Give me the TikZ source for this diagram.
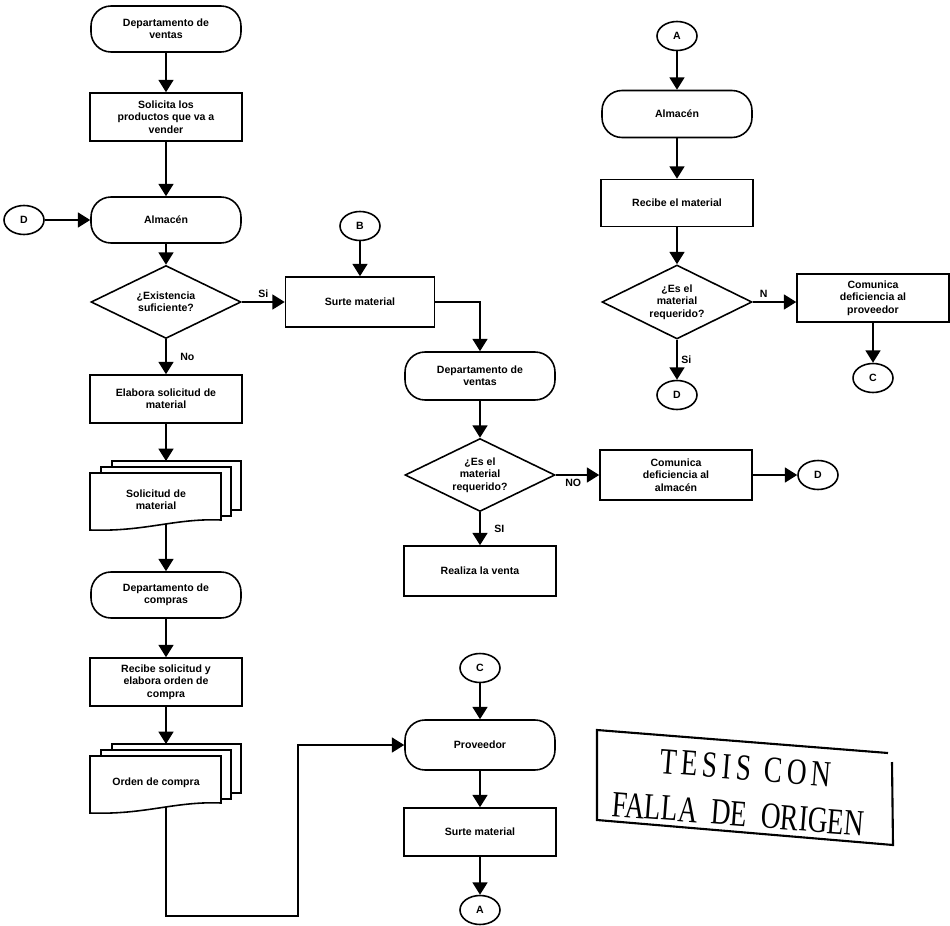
\documentclass[tikz,border=0pt]{standalone}
\usepackage{fontspec}
\setmainfont{Liberation Sans}
\newfontfamily\stampfont{Liberation Serif}
\usetikzlibrary{shapes.geometric,arrows.meta}

\tikzset{
    base/.style={draw, line width=0.9pt, fill=white, align=center, font=\fontsize{6}{7}\selectfont\bfseries, inner sep=1pt},
    term/.style={base, rectangle, rounded corners=0.4cm, minimum width=3cm, minimum height=0.92cm},
    proc/.style={base, rectangle, minimum width=3.04cm, minimum height=0.96cm},
    dec/.style={base, diamond, aspect=2, inner sep=0pt, minimum width=3cm, minimum height=1.46cm},
    conn/.style={base, ellipse, inner sep=0pt, minimum width=0.8cm, minimum height=0.58cm},
    arr/.style={line width=0.9pt, -{Triangle[length=7pt,width=8.5pt]}},
    lbl/.style={font=\fontsize{6}{7}\selectfont\bfseries, align=center, inner sep=2pt},
    stampline/.style={font=\stampfont\fontsize{21}{21}\selectfont, rotate=-4.5, xscale=0.74, inner sep=0pt},
}

% stack of documents: name, left x, top y, text
\newcommand{\docstack}[4]{%
    \draw[line width=0.9pt, fill=white] (#2+22,#3) rectangle (#2+151,#3+49);
    \draw[line width=0.9pt, fill=white] (#2+11,#3+6) rectangle (#2+141,#3+55);
    \draw[line width=0.9pt, fill=white] (#2,#3+12) -- (#2+131,#3+12) -- (#2+131,#3+59)
        .. controls (#2+85,#3+57) and (#2+55,#3+71) .. (#2,#3+69) -- cycle;
    \node[lbl] (#1) at (#2+66,#3+39) {#4};
    \coordinate (#1-in) at (#2+76,#3);
    \coordinate (#1-out) at (#2+76,#3+63);
}

\begin{document}
\begin{tikzpicture}[x=0.02cm, y=-0.02cm]
    \useasboundingbox[fill=white] (0,0) rectangle (950,926);

    % columna izquierda
    \node[term] (vent1) at (166,29) {Departamento de\\ventas};
    \node[proc] (solic) at (166,117) {Solicita los\\productos que va a\\vender};
    \node[term] (alm1) at (166,220) {Almacén};
    \node[conn] (conD1) at (24,220) {D};
    \node[dec] (exist) at (166,302) {¿Existencia\\suficiente?};
    \node[proc] (elab) at (166,399) {Elabora solicitud de\\material};
    \docstack{sol}{90}{461}{Solicitud de\\material}
    \node[term] (comp) at (166,595) {Departamento de\\compras};
    \node[proc] (recib) at (166,682) {Recibe solicitud y\\elabora orden de\\compra};
    \docstack{ord}{90}{744}{Orden de compra}
    \coordinate (bend) at (298,916);

    % columna central
    \node[conn] (conB) at (360,226) {B};
    \node[proc, minimum width=2.98cm, minimum height=1cm] (surte1) at (360,302) {Surte material};
    \node[term, minimum height=0.96cm] (vent2) at (480,376) {Departamento de\\ventas};
    \node[dec] (req1) at (480,475) {¿Es el\\material\\requerido?};
    \node[proc, minimum height=1cm] (venta) at (480,571) {Realiza la venta};
    \node[proc, minimum height=1cm] (defalm) at (676,475) {Comunica\\deficiencia al\\almacén};
    \node[conn] (conD2) at (818,475) {D};
    \node[conn] (conC1) at (480,668) {C};
    \node[term, minimum height=1cm] (prov) at (480,745) {Proveedor};
    \node[proc] (surte2) at (480,832) {Surte material};
    \node[conn] (conA1) at (480,910) {A};

    % columna derecha
    \node[conn] (conA2) at (677,36) {A};
    \node[term, minimum height=0.94cm] (alm2) at (677,114) {Almacén};
    \node[proc, minimum height=0.94cm] (recmat) at (677,203) {Recibe el material};
    \node[dec, minimum height=1.48cm] (req2) at (677,302) {¿Es el\\material\\requerido?};
    \node[proc] (defprov) at (873,298) {Comunica\\deficiencia al\\proveedor};
    \node[conn] (conD3) at (677,395) {D};
    \node[conn] (conC2) at (873,378) {C};

    \draw[arr] (vent1) -- (solic);
    \draw[arr] (solic) -- (alm1);
    \draw[arr] (conD1) -- (alm1);
    \draw[arr] (alm1) -- (exist);
    \draw[arr] (exist) -- node[lbl, above] (lsi1) {Si} (surte1);
    \draw[arr] (exist) -- node[lbl, right=0.2cm] (lno1) {No} (elab);
    \draw[arr] (elab) -- (sol-in);
    \draw[arr] (sol-out) -- (comp);
    \draw[arr] (comp) -- (recib);
    \draw[arr] (recib) -- (ord-in);
    \draw[arr] (ord-out) |- (bend) |- (prov);

    \draw[arr] (conB) -- (surte1);
    \draw[arr] (surte1) -| (vent2);
    \draw[arr] (vent2) -- (req1);
    \draw[arr] (req1) -- node[lbl, below, pos=0.4] (lno2) {NO} (defalm);
    \draw[arr] (req1) -- node[lbl, right=0.2cm] (lsi2) {SI} (venta);
    \draw[arr] (defalm) -- (conD2);
    \draw[arr] (conC1) -- (prov);
    \draw[arr] (prov) -- (surte2);
    \draw[arr] (surte2) -- (conA1);

    \draw[arr] (conA2) -- (alm2);
    \draw[arr] (alm2) -- (recmat);
    \draw[arr] (recmat) -- (req2);
    \draw[arr] (req2.east) -- node[lbl, above, pos=0.25] (ln3) {N} (req2.east -| defprov.west);
    \draw[arr] (req2) -- node[lbl, right] (lsi3) {Si} (conD3);
    \draw[arr] (defprov) -- (conC2);

    % sello
    \draw[line width=1.2pt] (888,753) -- (597,730) -- (597,820) -- (893,845) -- (892,762);
    \node[stampline] (stamp1) at (746,768) {T\,E\,S\,I\,S\ \ C\,O\,N};
    \node[stampline] (stamp2) at (738,814) {FALLA\ \ DE\ \ ORIGEN};
\end{tikzpicture}
\end{document}
